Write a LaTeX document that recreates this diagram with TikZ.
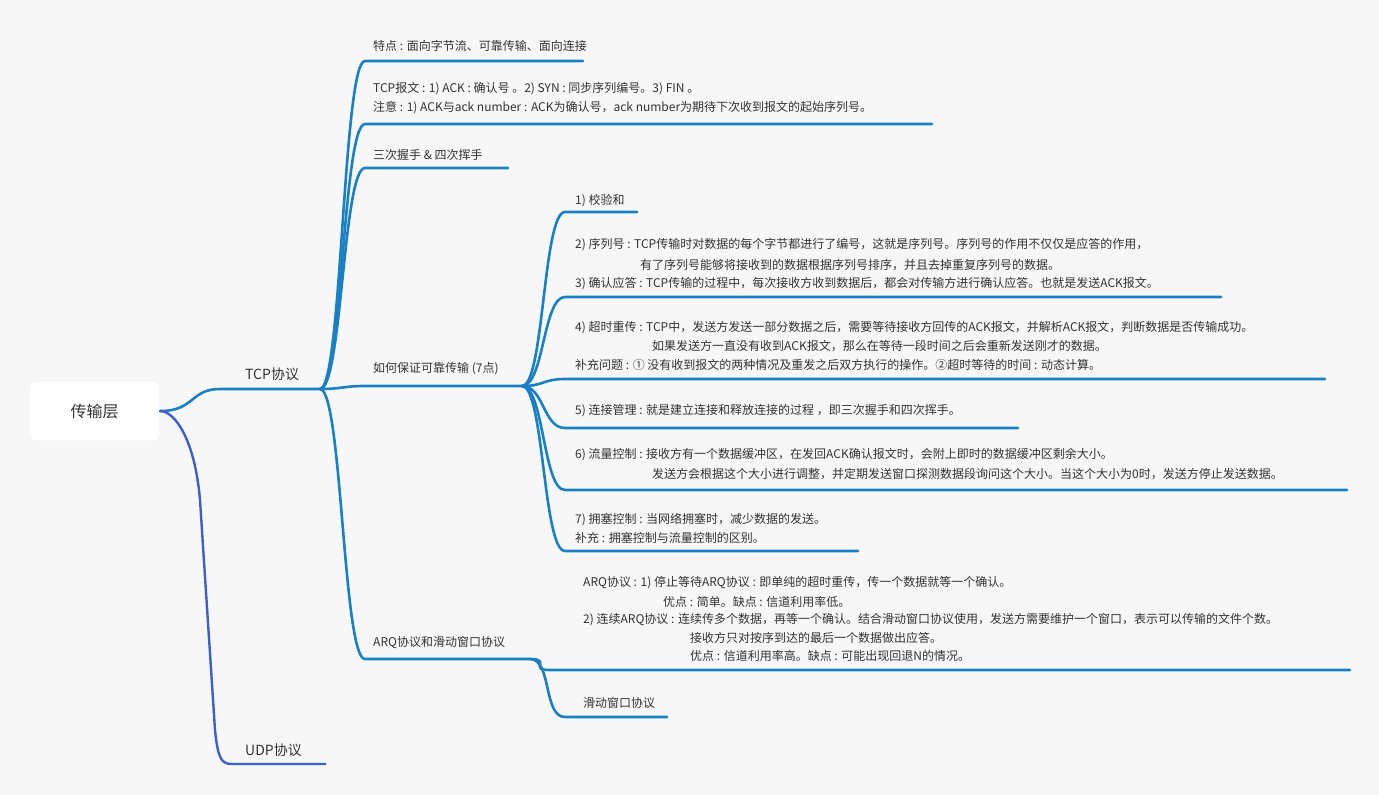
\documentclass[tikz,border=0pt]{standalone}
\usepackage{fontspec}
\setmainfont{Noto Sans CJK SC}
\usetikzlibrary{calc}
\definecolor{bl}{HTML}{1A80C6}
\definecolor{ud}{HTML}{3F5FC8}
\definecolor{tx}{HTML}{333333}
\definecolor{bg}{HTML}{F7F7F7}
\begin{document}
\begin{tikzpicture}[x=1pt,y=-1pt,
  t/.style={anchor=west,inner sep=0pt,text=tx,font=\fontsize{12}{14}\selectfont},
  br/.style={draw=bl,line width=2.6pt,line cap=round}]
\fill[bg] (0,0) rectangle (1379,795);
\useasboundingbox (0,0) rectangle (1379,795);
\node[fill=white,rounded corners=6pt,minimum width=129pt,minimum height=58pt,inner sep=0pt,text=tx,font=\fontsize{16}{18}\selectfont] (root) at (94.5,411) {传输层};
\coordinate (r) at (160,411);
\coordinate (tcpL) at (220,389); \coordinate (tcpR) at (320,389);
\coordinate (udpL) at (232,764); \coordinate (udpR) at (326,764);
\node[t,font=\fontsize{14}{16}\selectfont] (tcp) at (245,374) {TCP协议};
\node[t,font=\fontsize{14}{16}\selectfont] (udp) at (245,750) {UDP协议};
\draw[br] (r) .. controls (195,411) and (190,389) .. (tcpL) -- (tcpR);
\draw[draw=ud,line width=2.4pt] (r) .. controls (175,411) and (195,440) .. (200,500) -- (215,730) .. controls (218,760) and (222,764) .. (udpL) -- (udpR);
\newcommand\brc[5]{\coordinate (#1a) at (#2,#3); \coordinate (#1b) at (#4,#3);
  \draw[br] (#5) .. controls ($(#5)+(22,0)$) and ($(#1a)+(-22,0)$) .. (#1a) -- (#1b);}
\brc{c1}{365}{61}{583}{tcpR}
\brc{c2}{365}{124}{932}{tcpR}
\brc{c3}{365}{168}{508}{tcpR}
\brc{c4}{365}{386}{522}{tcpR}
\brc{c5}{365}{659}{530}{tcpR}
\node[t] (n1) at (373,46) {特点 : 面向字节流、可靠传输、面向连接};
\node[t] (n2) at (373,89) {TCP报文 : 1) ACK : 确认号 。2) SYN : 同步序列编号。3) FIN 。};
\node[t] (n2b) at (373,108) {注意 : 1) ACK与ack number : ACK为确认号，ack number为期待下次收到报文的起始序列号。};
\node[t] (n3) at (373,155) {三次握手 \& 四次挥手};
\node[t] (n4) at (373,369) {如何保证可靠传输 (7点)};
\node[t] (n5) at (373,643) {ARQ协议和滑动窗口协议};
\brc{d1}{565}{212}{637}{c4b}
\brc{d2}{565}{297}{1221}{c4b}
\brc{d3}{565}{379}{1325}{c4b}
\brc{d4}{565}{428}{1018}{c4b}
\brc{d5}{565}{490}{1347}{c4b}
\brc{d6}{565}{551}{858}{c4b}
\brc{e1}{550}{670}{1350}{c5b}
\brc{e2}{565}{717}{667}{c5b}
\node[t] (m1) at (575,201) {1) 校验和};
\node[t] (m2) at (575,245) {2) 序列号 : TCP传输时对数据的每个字节都进行了编号，这就是序列号。序列号的作用不仅仅是应答的作用，};
\node[t] (m2b) at (640,265) {有了序列号能够将接收到的数据根据序列号排序，并且去掉重复序列号的数据。};
\node[t] (m2c) at (575,284) {3) 确认应答 : TCP传输的过程中，每次接收方收到数据后，都会对传输方进行确认应答。也就是发送ACK报文。};
\node[t] (m3) at (575,328) {4) 超时重传 : TCP中，发送方发送一部分数据之后，需要等待接收方回传的ACK报文，并解析ACK报文，判断数据是否传输成功。};
\node[t] (m3b) at (652,346) {如果发送方一直没有收到ACK报文，那么在等待一段时间之后会重新发送刚才的数据。};
\node[t] (m3c) at (575,365) {补充问题 : ① 没有收到报文的两种情况及重发之后双方执行的操作。②超时等待的时间 : 动态计算。};
\node[t] (m4) at (575,411) {5) 连接管理 : 就是建立连接和释放连接的过程 ，即三次握手和四次挥手。};
\node[t] (m5) at (575,455) {6) 流量控制 : 接收方有一个数据缓冲区，在发回ACK确认报文时，会附上即时的数据缓冲区剩余大小。};
\node[t] (m5b) at (652,474) {发送方会根据这个大小进行调整，并定期发送窗口探测数据段询问这个大小。当这个大小为0时，发送方停止发送数据。};
\node[t] (m6) at (575,520) {7) 拥塞控制 : 当网络拥塞时，减少数据的发送。};
\node[t] (m6b) at (575,538) {补充 : 拥塞控制与流量控制的区别。};
\node[t] (a1) at (583,583) {ARQ协议 : 1) 停止等待ARQ协议 : 即单纯的超时重传，传一个数据就等一个确认。};
\node[t] (a2) at (663,602) {优点 : 简单。缺点 : 信道利用率低。};
\node[t] (a3) at (583,620) {2) 连续ARQ协议 : 连续传多个数据，再等一个确认。结合滑动窗口协议使用，发送方需要维护一个窗口，表示可以传输的文件个数。};
\node[t] (a4) at (690,638) {接收方只对按序到达的最后一个数据做出应答。};
\node[t] (a5) at (690,656) {优点 : 信道利用率高。缺点 : 可能出现回退N的情况。};
\node[t] (a6) at (583,703) {滑动窗口协议};
\end{tikzpicture}
\end{document}
